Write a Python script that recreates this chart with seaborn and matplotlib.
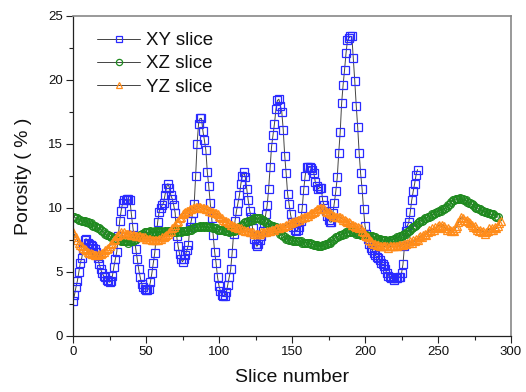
import numpy as np
import pandas as pd
import matplotlib
matplotlib.use("Agg")
import matplotlib.pyplot as plt
import seaborn as sns
from matplotlib.ticker import MultipleLocator

# ---- data ----
xy_slice = [
    2.7, 3.2, 3.8, 4.3, 5.0, 5.7, 6.1, 6.8, 7.5, 7.6,
    7.3, 7.2, 7.1, 7.0, 6.9, 6.8, 6.6, 6.1, 5.6, 5.2,
    4.9, 4.7, 4.6, 4.4, 4.3, 4.2, 4.3, 4.7, 5.4, 6.0,
    6.6, 7.8, 9.0, 9.8, 10.4, 10.6, 10.6, 10.7, 10.7, 10.6,
    9.5, 8.5, 7.6, 6.8, 6.0, 5.2, 4.6, 4.1, 3.8, 3.7,
    3.6, 3.6, 3.7, 4.2, 4.9, 5.7, 6.5, 7.8, 8.9, 9.7,
    10.0, 10.2, 10.4, 11.0, 11.6, 11.9, 11.6, 11.0, 10.7, 10.2,
    9.6, 7.8, 7.0, 6.4, 6.0, 5.8, 6.0, 6.3, 6.7, 7.1,
    8.5, 9.0, 9.6, 10.3, 12.5, 15.0, 16.6, 17.0, 17.0, 16.0,
    15.3, 14.5, 12.8, 11.7, 10.4, 9.2, 7.9, 6.6, 5.7, 4.6,
    3.9, 3.5, 3.2, 3.1, 3.1, 3.4, 4.0, 4.6, 5.2, 6.5,
    8.0, 9.0, 9.8, 10.4, 11.0, 11.9, 12.5, 12.8, 12.4, 11.5,
    10.6, 9.8, 9.3, 8.4, 7.6, 7.2, 7.0, 7.2, 7.5, 7.8,
    8.2, 8.8, 9.5, 10.2, 11.5, 13.2, 14.8, 15.7, 16.6, 17.7,
    18.4, 18.5, 18.0, 17.5, 16.1, 14.1, 12.7, 11.1, 10.3, 9.5,
    8.9, 8.5, 8.3, 8.2, 8.3, 8.5, 9.0, 10.0, 11.4, 12.5,
    13.2, 13.2, 13.2, 13.1, 13.0, 12.7, 12.0, 11.7, 11.5, 11.6,
    11.6, 10.6, 10.2, 9.8, 9.4, 9.1, 8.9, 8.9, 9.6, 10.4,
    11.3, 12.4, 14.3, 15.9, 18.2, 19.6, 20.8, 22.1, 23.1, 23.3,
    23.4, 23.4, 21.7, 19.9, 18.0, 16.3, 14.3, 12.7, 11.5, 9.9,
    8.6, 8.0, 7.6, 7.2, 6.9, 6.7, 6.5, 6.3, 6.2, 6.1,
    5.9, 5.7, 5.6, 5.5, 5.2, 4.9, 4.7, 4.6, 4.5, 4.5,
    4.4, 4.5, 4.5, 4.6, 4.6, 4.9, 5.6, 7.0, 8.2, 8.6,
    8.9, 9.7, 10.6, 11.3, 11.9, 12.6, 13.0,
]
xz_slice = [
    9.3, 9.3, 9.2, 9.2, 9.1, 9.1, 9.0, 9.0, 9.0, 8.9,
    8.9, 8.8, 8.8, 8.7, 8.6, 8.6, 8.5, 8.4, 8.4, 8.3,
    8.2, 8.1, 8.0, 7.9, 7.9, 7.8, 7.7, 7.7, 7.6, 7.6,
    7.5, 7.5, 7.5, 7.4, 7.4, 7.4, 7.4, 7.4, 7.3, 7.4,
    7.4, 7.4, 7.5, 7.6, 7.7, 7.8, 7.9, 8.0, 8.0, 8.1,
    8.1, 8.1, 8.1, 8.2, 8.1, 8.1, 8.2, 8.1, 8.2, 8.1,
    8.2, 8.1, 8.1, 8.2, 8.1, 8.2, 8.1, 8.2, 8.1, 8.1,
    8.2, 8.1, 8.2, 8.2, 8.1, 8.2, 8.2, 8.2, 8.2, 8.3,
    8.3, 8.3, 8.4, 8.4, 8.5, 8.5, 8.5, 8.6, 8.5, 8.6,
    8.5, 8.6, 8.5, 8.5, 8.5, 8.5, 8.4, 8.4, 8.4, 8.3,
    8.3, 8.3, 8.3, 8.3, 8.2, 8.2, 8.2, 8.1, 8.2, 8.2,
    8.2, 8.3, 8.3, 8.4, 8.5, 8.6, 8.7, 8.8, 8.9, 8.9,
    9.0, 9.0, 9.1, 9.1, 9.2, 9.2, 9.2, 9.2, 9.2, 9.1,
    9.1, 9.0, 8.9, 8.8, 8.7, 8.7, 8.6, 8.6, 8.5, 8.5,
    8.3, 8.2, 8.0, 7.9, 7.8, 7.7, 7.6, 7.6, 7.5, 7.5,
    7.5, 7.4, 7.4, 7.4, 7.4, 7.4, 7.4, 7.3, 7.3, 7.3,
    7.3, 7.3, 7.3, 7.2, 7.2, 7.1, 7.1, 7.1, 7.0, 7.0,
    7.0, 7.1, 7.1, 7.2, 7.2, 7.3, 7.3, 7.4, 7.5, 7.6,
    7.7, 7.7, 7.8, 7.9, 7.9, 8.0, 8.0, 8.1, 8.1, 8.1,
    8.1, 8.2, 8.1, 8.1, 8.0, 8.0, 8.0, 7.9, 7.9, 7.9,
    7.9, 7.9, 7.8, 7.8, 7.8, 7.8, 7.7, 7.7, 7.6, 7.6,
    7.6, 7.5, 7.5, 7.5, 7.5, 7.4, 7.4, 7.5, 7.5, 7.5,
    7.6, 7.6, 7.7, 7.7, 7.8, 7.8, 7.9, 8.0, 8.0, 8.1,
    8.2, 8.3, 8.4, 8.5, 8.6, 8.7, 8.8, 8.9, 9.0, 9.0,
    9.1, 9.2, 9.2, 9.3, 9.3, 9.4, 9.5, 9.5, 9.6, 9.7,
    9.7, 9.8, 9.8, 9.9, 9.9, 10.0, 10.1, 10.2, 10.3, 10.5,
    10.6, 10.6, 10.7, 10.7, 10.7, 10.8, 10.7, 10.7, 10.6, 10.6,
    10.5, 10.4, 10.4, 10.3, 10.2, 10.1, 10.0, 10.0, 9.9, 9.9,
    9.8, 9.8, 9.7, 9.7, 9.6, 9.6, 9.5, 9.5, 9.5, 9.4,
    9.3, 9.3,
]
yz_slice = [
    8.1, 7.9, 7.7, 7.5, 7.3, 7.1, 7.0, 6.9, 6.8, 6.7,
    6.6, 6.5, 6.5, 6.4, 6.4, 6.3, 6.3, 6.3, 6.4, 6.4,
    6.5, 6.6, 6.7, 6.8, 6.9, 7.0, 7.2, 7.3, 7.5, 7.6,
    7.8, 7.9, 8.0, 8.1, 8.0, 8.1, 8.0, 8.0, 8.0, 8.0,
    7.9, 7.9, 7.9, 7.8, 7.8, 7.8, 7.8, 7.7, 7.7, 7.7,
    7.6, 7.6, 7.6, 7.6, 7.5, 7.5, 7.5, 7.5, 7.5, 7.6,
    7.6, 7.7, 7.7, 7.8, 7.9, 8.0, 8.1, 8.2, 8.4, 8.5,
    8.7, 8.9, 9.0, 9.2, 9.3, 9.5, 9.6, 9.7, 9.8, 9.8,
    9.9, 9.9, 10.0, 10.0, 10.1, 10.1, 10.1, 10.1, 10.0, 10.0,
    10.0, 9.9, 9.9, 9.8, 9.8, 9.7, 9.7, 9.6, 9.6, 9.5,
    9.4, 9.3, 9.2, 9.1, 9.0, 9.0, 8.9, 8.8, 8.7, 8.7,
    8.6, 8.5, 8.5, 8.4, 8.4, 8.4, 8.3, 8.3, 8.2, 8.2,
    8.2, 8.1, 8.1, 8.1, 8.0, 8.0, 8.0, 8.0, 8.0, 8.1,
    8.1, 8.1, 8.1, 8.2, 8.2, 8.2, 8.3, 8.3, 8.3, 8.4,
    8.4, 8.4, 8.5, 8.5, 8.5, 8.6, 8.7, 8.7, 8.8, 8.8,
    8.9, 8.9, 9.0, 9.0, 9.1, 9.1, 9.2, 9.2, 9.3, 9.3,
    9.4, 9.4, 9.5, 9.6, 9.6, 9.7, 9.8, 9.9, 9.9, 10.0,
    10.0, 10.0, 9.9, 9.8, 9.7, 9.7, 9.6, 9.5, 9.4, 9.4,
    9.3, 9.3, 9.3, 9.3, 9.2, 9.1, 9.1, 9.0, 8.9, 8.9,
    8.8, 8.7, 8.7, 8.6, 8.5, 8.5, 8.4, 8.4, 8.2, 8.1,
    7.9, 7.8, 7.7, 7.5, 7.4, 7.3, 7.2, 7.2, 7.1, 7.1,
    7.0, 7.0, 7.0, 7.0, 7.0, 7.0, 6.9, 7.0, 7.0, 7.0,
    7.0, 7.0, 7.0, 7.1, 7.1, 7.1, 7.1, 7.2, 7.2, 7.3,
    7.3, 7.4, 7.3, 7.5, 7.4, 7.6, 7.5, 7.7, 7.8, 7.7,
    7.9, 8.0, 7.9, 8.1, 8.3, 8.2, 8.4, 8.3, 8.5, 8.4,
    8.6, 8.7, 8.5, 8.7, 8.6, 8.4, 8.3, 8.4, 8.3, 8.2,
    8.3, 8.2, 8.4, 8.6, 8.9, 9.1, 9.3, 9.2, 9.1, 9.0,
    9.1, 8.9, 8.8, 8.7, 8.5, 8.6, 8.4, 8.3, 8.2, 8.3,
    8.1, 8.2, 8.0, 8.1, 8.2, 8.4, 8.3, 8.4, 8.3, 8.5,
    8.4, 8.6, 8.8, 9.0,
]
series_names = ["XY slice", "XZ slice", "YZ slice"]
series_values = [xy_slice, xz_slice, yz_slice]
series_colors = ["#2a2aff", "#1f8a1f", "#ff8c1a"]
series_markers = ["s", "o", "^"]
x_label = "Slice number"
y_label = "Porosity ( % )"

# ---- plot ----
sns.set_theme(style="ticks")
plt.rcParams["font.family"] = ["Liberation Sans", "DejaVu Sans"]

fig = plt.figure(figsize=(5.26, 3.92), dpi=100)
ax = fig.add_axes([73 / 526, (392 - 336) / 392, 438 / 526, 320 / 392])

for name, vals, col, mk in zip(series_names, series_values, series_colors, series_markers):
    df = pd.DataFrame({"slice": np.arange(len(vals)), "porosity": vals})
    sns.lineplot(data=df, x="slice", y="porosity", ax=ax, color="#444444",
                 linewidth=0.7, marker=mk, markersize=5.6,
                 markerfacecolor="none", markeredgecolor=col,
                 markeredgewidth=0.9, label=name)

ax.set_xlim(0, 300)
ax.set_ylim(0, 25)
ax.xaxis.set_major_locator(MultipleLocator(50))
ax.xaxis.set_minor_locator(MultipleLocator(25))
ax.yaxis.set_major_locator(MultipleLocator(5))
ax.yaxis.set_minor_locator(MultipleLocator(2.5))
ax.tick_params(axis="both", which="major", direction="out", length=5,
               width=0.8, color="#222222", labelsize=9.5, pad=2,
               labelcolor="#111111")
ax.tick_params(axis="both", which="minor", direction="out", length=3,
               width=0.8, color="#222222")

for s in ["left", "bottom"]:
    ax.spines[s].set_color("#222222")
    ax.spines[s].set_linewidth(0.9)
for s in ["top", "right"]:
    ax.spines[s].set_color("#888888")
    ax.spines[s].set_linewidth(1.2)

ax.set_xlabel(x_label, fontsize=14, color="#111111", labelpad=8)
ax.set_ylabel(y_label, fontsize=14, color="#111111", labelpad=12)

leg = ax.legend(loc="upper left", bbox_to_anchor=(0.055, 0.95), frameon=False,
                fontsize=13.5, handlelength=2.3, handletextpad=0.3,
                labelspacing=0.33, borderpad=0, borderaxespad=0,
                markerscale=0.8)
for t in leg.get_texts():
    t.set_color("#111111")

fig.savefig("out.png", dpi=100, facecolor="white")
